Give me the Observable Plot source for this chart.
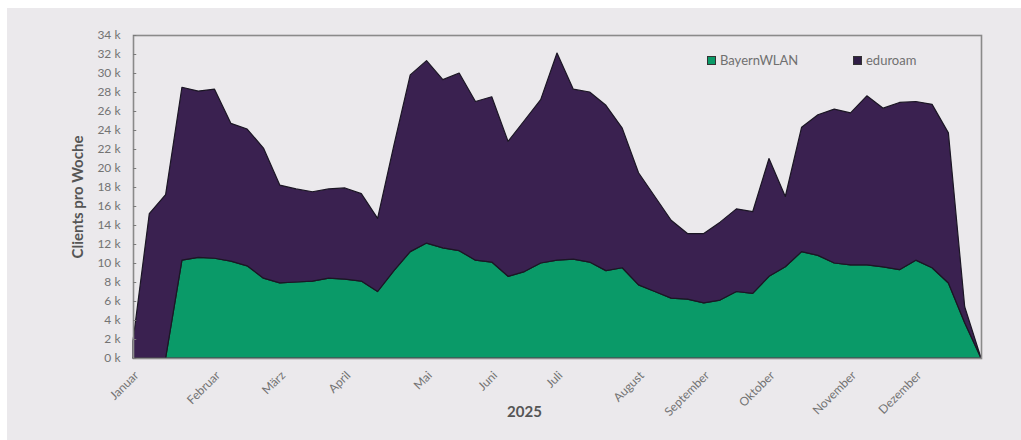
<!DOCTYPE html>
<html>
<head>
<meta charset="utf-8">
<script src="https://cdn.jsdelivr.net/npm/d3@7"></script>
<script src="https://cdn.jsdelivr.net/npm/@observablehq/plot@0.6"></script>
<style>
  html, body { margin: 0; padding: 0; background: #ffffff; }
  #wrap { position: relative; width: 1021px; height: 440px; overflow: hidden; background: #ffffff; }
  #bg { position: absolute; left: 7px; top: 8px; right: 0; bottom: 0; background: #ebe9ec; }
  #chart { position: absolute; left: 0; top: 0; }
  .legend { position: absolute; top: 52px; font-family: Lato, "Open Sans", sans-serif; font-size: 13px; color: #707070; display: flex; align-items: center; }
  .legend span.sw { display: inline-block; width: 9px; height: 9px; margin-right: 4px; border: 1px solid #333; box-sizing: border-box; }
</style>
</head>
<body>
<div id="wrap">
  <div id="bg"></div>
  <div id="chart"></div>
  <div class="legend" style="left:707px"><span class="sw" style="background:#0a9a68"></span>BayernWLAN</div>
  <div class="legend" style="left:853px"><span class="sw" style="background:#2f1d45"></span>eduroam</div>
</div>
<script>
// Weekly clients (in thousands), 53 calendar weeks of 2025
const weeks = Array.from({length: 53}, (_, i) => i);
const bayernWLAN = [0,0,0,10.3,10.6,10.5,10.2,9.7,8.4,7.9,8.0,8.1,8.4,8.3,8.1,7.0,9.2,11.2,12.1,11.6,11.3,10.3,10.1,8.6,9.1,10.0,10.3,10.4,10.1,9.2,9.5,7.7,7.0,6.3,6.2,5.8,6.1,7.0,6.8,8.6,9.6,11.2,10.8,10.0,9.8,9.8,9.6,9.3,10.3,9.5,7.9,3.7,0];
const eduroam = [1.8,15.2,17.2,18.2,17.5,17.8,14.5,14.4,13.7,10.3,9.8,9.4,9.4,9.6,9.2,7.7,13.2,18.6,19.2,17.7,18.7,16.7,17.4,14.2,15.9,17.2,21.8,17.9,17.9,17.4,14.7,11.8,10.0,8.2,6.9,7.3,8.2,8.7,8.6,12.4,7.4,13.1,14.8,16.2,16.0,17.8,16.7,17.6,16.7,17.2,15.8,1.7,0];
const seriesNames = ["BayernWLAN", "eduroam"];
const seriesColors = ["#0a9a68", "#3a2150"];
const monthWeeks = [0,5,9,13,18,22,26,31,35,39,44,48];
const monthNames = ["Januar","Februar","März","April","Mai","Juni","Juli","August","September","Oktober","November","Dezember"];
const yTicks = [0,2,4,6,8,10,12,14,16,18,20,22,24,26,28,30,32,34];

const rows = [];
weeks.forEach((w, i) => {
  rows.push({week: w, series: "BayernWLAN", value: bayernWLAN[i]});
  rows.push({week: w, series: "eduroam", value: eduroam[i]});
});

const chart = Plot.plot({
  width: 1021,
  height: 440,
  marginLeft: 133,
  marginRight: 40,
  marginTop: 35,
  marginBottom: 82,
  style: {background: "transparent", fontFamily: "Lato, 'Open Sans', sans-serif", fontSize: "12px", color: "#737373", overflow: "visible"},
  x: {domain: [0, 52]},
  y: {domain: [0, 34]},
  color: {domain: seriesNames, range: seriesColors},
  marks: [
    Plot.areaY(rows, {x: "week", y: "value", fill: "series", z: "series", order: seriesNames, stroke: "#1b1624", strokeWidth: 1.2, curve: "linear"}),
    Plot.frame({stroke: "#8a8a8a", strokeWidth: 1.6}),
    Plot.ruleY(yTicks, {x1: 0, x2: 0.2, stroke: "#7a7a7a"}),
    Plot.axisY({ticks: yTicks, tickSize: 0, tickPadding: 13, tickFormat: d => `${d} k`, label: "Clients pro Woche", labelAnchor: "center", labelArrow: "none", labelOffset: 61}),
    Plot.axisX({ticks: monthWeeks, tickSize: 0, tickPadding: 15, dx: 3, tickRotate: -45, tickFormat: d => monthNames[monthWeeks.indexOf(d)], label: null}),
    Plot.text(["2025"], {frameAnchor: "bottom", dx: -33, dy: 58, text: d => d, fontWeight: "bold", fontSize: 15, fill: "#555"})
  ]
});
document.getElementById("chart").appendChild(chart);
d3.select(chart).selectAll('g[aria-label="y-axis label"] text')
  .style("font-weight", "bold").style("font-size", "15px").style("fill", "#555");
</script>
</body>
</html>
